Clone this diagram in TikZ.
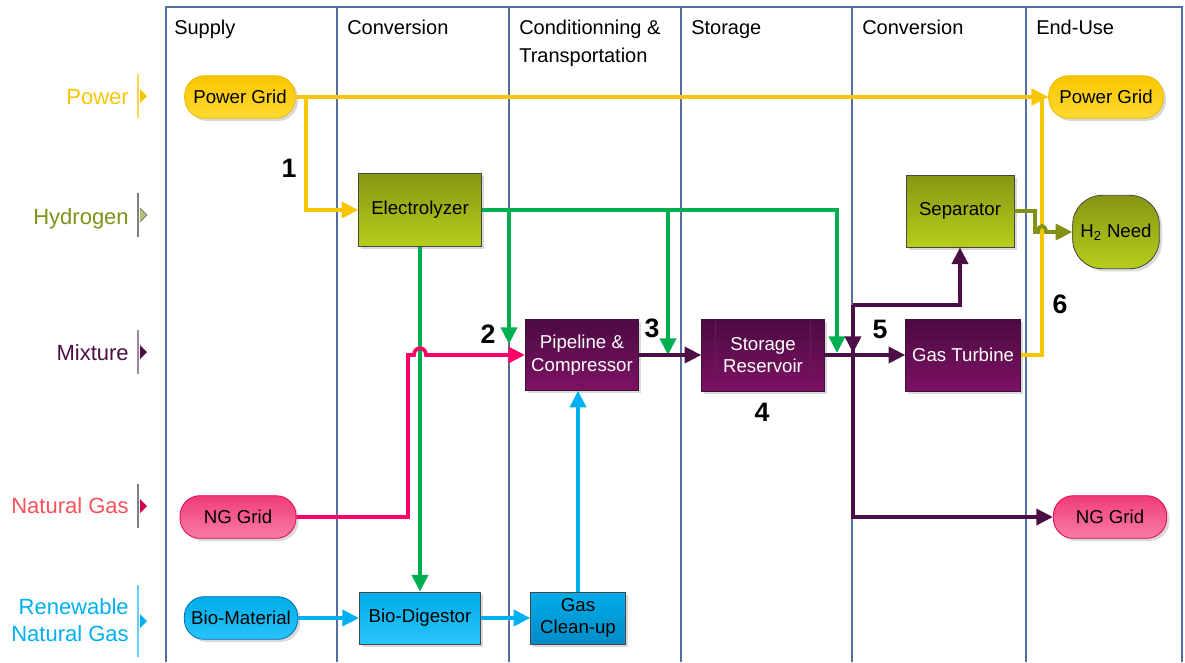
\documentclass[tikz,border=0pt]{standalone}
\usepackage{fontspec}
\setmainfont{Liberation Sans}
\usetikzlibrary{arrows.meta, shadows, positioning}

\definecolor{cPow}{RGB}{248,198,0}
\definecolor{cPowLt}{RGB}{255,218,50}
\definecolor{cPowDk}{RGB}{235,185,0}
\definecolor{cH2}{RGB}{0,176,80}
\definecolor{cOli}{RGB}{128,145,22}
\definecolor{cOliTop}{RGB}{135,150,20}
\definecolor{cOliBot}{RGB}{182,206,25}
\definecolor{cMix}{RGB}{75,15,70}
\definecolor{cMixTop}{RGB}{75,10,65}
\definecolor{cMixBot}{RGB}{125,18,100}
\definecolor{cMixDk}{RGB}{60,20,55}
\definecolor{cMixIn}{RGB}{105,25,90}
\definecolor{cNG}{RGB}{255,0,102}
\definecolor{cNGTop}{RGB}{240,60,120}
\definecolor{cNGBot}{RGB}{250,125,165}
\definecolor{cNGDk}{RGB}{230,0,90}
\definecolor{cNGTxt}{RGB}{250,80,90}
\definecolor{cRNG}{RGB}{0,176,240}
\definecolor{cRNGTop}{RGB}{0,172,232}
\definecolor{cRNGBot}{RGB}{40,196,250}
\definecolor{cRNGDk}{RGB}{0,110,180}
\definecolor{cRNGDeep}{RGB}{0,140,200}
\definecolor{laneline}{RGB}{85,110,160}
\definecolor{boxline}{RGB}{70,70,70}

\begin{document}
\begin{tikzpicture}[x=0.75pt, y=-0.75pt,
  lane/.style={draw=laneline, line width=0.9pt},
  head/.style={anchor=north west, inner sep=0pt, align=left, font=\fontsize{15}{21}\selectfont},
  rowlbl/.style={anchor=base east, inner sep=0pt, align=right, font=\fontsize{16.5}{20}\selectfont},
  num/.style={font=\fontsize{20}{22}\selectfont\bfseries},
  box/.style={rectangle, draw=boxline, line width=0.6pt, align=center, inner sep=2pt,
    font=\fontsize{14}{17}\selectfont,
    drop shadow={shadow xshift=2pt, shadow yshift=-2pt, fill=black, opacity=0.15}},
  pill/.style={box, rounded corners=15pt, minimum height=32pt},
  powfill/.style={top color=cPow, bottom color=cPowLt, draw=cPowDk},
  olifill/.style={top color=cOliTop, bottom color=cOliBot},
  mixfill/.style={top color=cMixTop, bottom color=cMixBot, draw=cMixDk, text=white},
  ngfill/.style={top color=cNGTop, bottom color=cNGBot, draw=cNGDk},
  rngfill/.style={top color=cRNGTop, bottom color=cRNGBot},
  flow/.style={line width=2.8pt, -{Triangle[length=12.5pt,width=12pt]}},
]
\useasboundingbox (0,0) rectangle (1185,662);

% Lanes
\draw[lane] (166,662) -- (166,7) -- (1182,7) -- (1182,662);
\foreach \x in {337,509,681,852,1026}
  \draw[lane] (\x,7) -- (\x,662);

% Headers
\node[head] (hsup) at (174,20) {Supply};
\node[head] (hcon) at (347,20) {Conversion};
\node[head] (hcnd) at (519,20) {Conditionning \&\\Transportation};
\node[head] (hsto) at (691,20) {Storage};
\node[head] (hcon2) at (862,20) {Conversion};
\node[head] (hend) at (1036,20) {End-Use};

% Rows
\node[rowlbl, text=cPow] (rpow) at (129,104) {Power};
\node[rowlbl, text=cOli] (rh2) at (129,224) {Hydrogen};
\node[rowlbl, text=cMix] (rmix) at (129,360) {Mixture};
\node[rowlbl, text=cNGTxt] (rng) at (129,513) {Natural Gas};
\node[rowlbl, anchor=east, text=cRNG] (rrng) at (129,620) {Renewable\\Natural Gas};
\foreach \y/\h/\bc/\tc in {96/22/cPow!70/cPow, 215/22/gray/cOli!60, 352/22/cMix!50/cMix,
                           506/22/gray/cNG!80!black, 621/36/cRNG!60/cRNG}{
  \draw[\bc, line width=1.3pt] (138,\y-\h) -- (138,\y+\h);
  \fill[\tc] (140,\y-7) -- (147,\y) -- (140,\y+7) -- cycle;
}
\draw[gray!70!black, line width=0.5pt] (140,208) -- (147,215) -- (140,222);

% Supply
\node[pill, powfill, minimum width=83pt] (pgin) at (240,97) {Power Grid};
\node[pill, ngfill, minimum width=87pt] (ngin) at (238,517) {NG Grid};
\node[pill, rngfill, draw=cRNGDk, minimum width=85pt] (bio) at (241,618) {Bio-Material};

% Conversion
\node[box, olifill, minimum width=92pt, minimum height=55pt] (elec) at (420,210) {Electrolyzer};
\node[box, rngfill, minimum width=91pt, minimum height=39pt] (dig) at (420,618) {Bio-Digestor};

% Conditioning
\node[box, mixfill, minimum width=85pt, minimum height=53pt] (pipe) at (582,355) {Pipeline \&\\Compressor};
\node[box, top color=cRNGTop, bottom color=cRNGDeep, minimum width=71pt, minimum height=39pt] (clean) at (578,618) {Gas\\Clean-up};

% Storage
\node[box, mixfill, minimum width=92pt, minimum height=54pt] (stor) at (763,355) {Storage\\Reservoir};
\draw[cMixIn, line width=0.6pt]
  ([xshift=10.5pt]stor.north west) -- ([xshift=10.5pt]stor.south west)
  ([xshift=-10.5pt]stor.north east) -- ([xshift=-10.5pt]stor.south east);

% Conversion (end)
\node[box, olifill, minimum width=81pt, minimum height=54pt] (sep) at (960,211) {Separator};
\node[box, mixfill, minimum width=86pt, minimum height=54pt] (turb) at (963,355) {Gas Turbine};

% End-use
\node[pill, powfill, minimum width=86pt] (pgout) at (1106,97) {Power Grid};
\node[box, olifill, rounded corners=22pt, minimum width=65pt, minimum height=55pt] (need) at (1116,232) {H\textsubscript{2} Need};
\node[pill, ngfill, minimum width=85pt] (ngout) at (1110,517) {NG Grid};

% Branch points
\coordinate (pwsplit) at (306,97);
\coordinate (h2a) at (509,210);
\coordinate (h2b) at (668,210);
\coordinate (h2c) at (837,210);
\coordinate (t2) at (509,344);
\coordinate (t3) at (668,355);
\coordinate (t5) at (837,353);
\coordinate (mixjn) at (853,305);
\coordinate (t5m) at (853,353);

% Power
\draw[flow, cPow] (pgin.east) -- (pgout.west);
\draw[flow, cPow] (pgin.east) -- (pwsplit) |- (elec.west);
\draw[flow, cPow] (turb.east) -- (1042,355) |- (pgout.west);

% Hydrogen
\draw[flow, cH2] (elec.east) -- (h2c) -- (t5);
\draw[flow, cH2] (h2a) -- (t2);
\draw[flow, cH2] (h2b) -- (t3);
\draw[flow, cH2] (elec.south) -- (dig.north);
\draw[flow, cOli] (sep.east) -- (1035,211) -- (1035,232) -- (1038,232)
  .. controls (1038,224) and (1046,224) .. (1046,232) -- (need.west);

% Natural gas
\draw[flow, cNG] (ngin.east) -- (408,517) -- (408,355) -- (414,355)
  .. controls (414,346) and (426,346) .. (426,355) -- (pipe.west);

% Mixture
\draw[flow, cMix] (pipe.east) -- (stor.west);
\draw[flow, cMix] (stor.east) -- (turb.west);
\draw[flow, cMix] (mixjn) -| (sep.south);
\draw[flow, cMix] (mixjn) |- (ngout.west);
\draw[flow, cMix] (mixjn) -- (t5m);

% Renewable
\draw[flow, cRNG] (bio.east) -- (dig.west);
\draw[flow, cRNG] (dig.east) -- (clean.west);
\draw[flow, cRNG] (clean.north) -- (clean.north |- pipe.south);

% Steps
\node[num] (n1) at (289,168) {1};
\node[num] (n2) at (488,334) {2};
\node[num] (n3) at (652,328) {3};
\node[num] (n4) at (762,412) {4};
\node[num] (n5) at (880,329) {5};
\node[num] (n6) at (1060,304) {6};
\end{tikzpicture}
\end{document}
